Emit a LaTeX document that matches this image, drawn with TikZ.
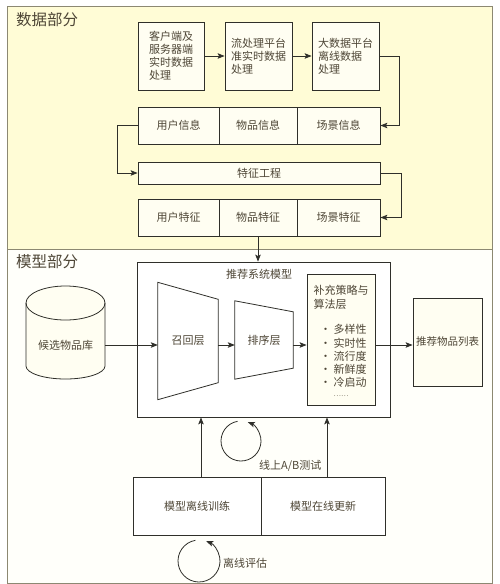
\documentclass[tikz,border=0pt]{standalone}
\usepackage{fontspec}
\setmainfont{Noto Sans CJK SC}
\usetikzlibrary{arrows.meta,calc}
\definecolor{txt}{HTML}{4E4636}
\definecolor{ln}{HTML}{2F2F2A}
\definecolor{databg}{HTML}{FFFCD6}
\definecolor{modelbg}{HTML}{FFFFFA}
\definecolor{frame}{HTML}{8C8872}
\definecolor{boxbg}{HTML}{FFFEF2}
\begin{document}
\begin{tikzpicture}[x=1pt,y=-1pt,
 lbl/.style={text=txt,font=\fontsize{11}{13}\selectfont,inner sep=0pt},
 box/.style={draw=ln,line width=0.8pt,fill=boxbg,inner sep=0pt,text=txt,font=\fontsize{11}{13}\selectfont},
 cell/.style={box,minimum height=37pt},
 arr/.style={draw=ln,line width=0.8pt,-{Stealth[length=7pt,width=5.5pt,inset=1.5pt]}},
 section/.style={draw=frame,line width=0.8pt,inner sep=0pt},
 sec/.style={text=txt,font=\fontsize{15.5}{18}\selectfont,inner sep=0pt,anchor=west}]
\useasboundingbox (0,0) rectangle (500,584);
\fill[white] (0,0) rectangle (500,584);
% sections
\node[section,fill=databg,minimum width=485pt,minimum height=243pt] (data) at (249.5,127.5) {};
\node[section,fill=modelbg,minimum width=485pt,minimum height=334pt] (model) at (249.5,416) {};
\node[sec] (dt) at (16,20) {数据部分};
\node[sec] (mt) at (16,262) {模型部分};
% top boxes
\node[box,minimum width=66pt,minimum height=68pt,align=left] (b1) at (171,56) {客户端及\\服务器端\\实时数据\\处理};
\node[box,minimum width=67pt,minimum height=68pt,align=left] (b2) at (258.5,56) {流处理平台\\准实时数据\\处理};
\node[box,minimum width=67pt,minimum height=68pt,align=left] (b3) at (345.5,56) {大数据平台\\离线数据\\处理};
% info row
\node[cell,minimum width=81pt] (i1) at (178.5,125.5) {用户信息};
\node[cell,minimum width=78pt] (i2) at (258,125.5) {物品信息};
\node[cell,minimum width=83pt] (i3) at (338.5,125.5) {场景信息};
\node[box,minimum width=242pt,minimum height=22pt] (fe) at (259,173) {特征工程};
\node[cell,minimum width=81pt] (f1) at (178.5,217.5) {用户特征};
\node[cell,minimum width=78pt] (f2) at (258,217.5) {物品特征};
\node[cell,minimum width=83pt] (f3) at (338.5,217.5) {场景特征};
% model part
\node[box,fill=white,minimum width=253pt,minimum height=155pt] (rec) at (263.5,339.5) {};
\node[lbl] (rect) at (259,274) {推荐系统模型};
% cylinder
\draw[ln,fill=boxbg,line width=0.8pt] (26,303) -- (26,366) arc[start angle=180,end angle=0,x radius=39.5,y radius=13] -- (105,303) arc[start angle=0,end angle=-180,x radius=39.5,y radius=17] -- cycle;
\draw[ln,line width=0.8pt] (26,303) arc[start angle=180,end angle=0,x radius=39.5,y radius=17];
\node[lbl,minimum width=79pt] (db) at (65.5,345) {候选物品库};
% recall & rank
\node[lbl,minimum width=60pt,minimum height=117pt] (recall) at (188,341) {召回层};
\draw[ln,line width=0.8pt] (recall.north west) -- ($(recall.north east)+(0,17)$) -- ($(recall.south east)+(0,-17)$) -- (recall.south west) -- cycle;
\node[lbl,minimum width=58pt,minimum height=78pt] (rank) at (264,340) {排序层};
\draw[ln,line width=0.8pt] (rank.north west) -- ($(rank.north east)+(0,11)$) -- ($(rank.south east)+(0,-11)$) -- (rank.south west) -- cycle;
% strategy
\node[box,minimum width=68pt,minimum height=131pt] (strat) at (341,339.5) {};
\node[lbl,anchor=north west,align=left,font=\fontsize{11}{14}\selectfont] (stt) at (313.5,285.5) {补充策略与\\算法层};
\node[lbl,anchor=north west,align=left,font=\fontsize{11}{13.2}\selectfont] (stl) at (320,324.5) {· 多样性\\· 实时性\\· 流行度\\· 新鲜度\\· 冷启动};
\node[lbl,font=\fontsize{7}{8}\selectfont] (dots) at (341,396) {……};
\node[box,minimum width=69pt,minimum height=88pt,font=\fontsize{10.5}{12}\selectfont] (out) at (447.5,342) {推荐物品列表};
% bottom
\node[box,fill=white,minimum width=128pt,minimum height=58pt] (train) at (197,506) {模型离线训练};
\node[box,fill=white,minimum width=124pt,minimum height=58pt] (upd) at (323,506) {模型在线更新};
\node[lbl,anchor=west] (abl) at (259,466) {线上A/B测试};
\node[lbl,anchor=west] (oel) at (223,563) {离线评估};
% connectors
\draw[arr] (b1) -- (b2);
\draw[arr] (b2) -- (b3);
\draw[arr] (b3.east) -- ++(20,0) |- (i3.east);
\draw[arr] (i1.west) -- ++(-20,0) |- (fe.west);
\draw[arr] (fe.east) -- ++(21,0) |- (f3.east);
\draw[arr] (f2.south) -- (f2.south |- rec.north);
\draw[arr] (db.east) -- (db.east -| recall.west);
\draw[arr] (db.east -| recall.east) -- (db.east -| rank.west);
\draw[arr] (db.east -| rank.east) -- (db.east -| strat.west);
\draw[arr] (db.east -| strat.east) -- (db.east -| out.west);
\draw[arr] ([xshift=4pt]train.north) -- ([xshift=4pt]train.north |- rec.south);
\draw[arr] ([xshift=4pt]upd.north) -- ([xshift=4pt]upd.north |- rec.south);
% loops
\coordinate (c1) at (241,441);
\coordinate (c2) at (199,561);
\draw[arr] ($(c1)+(-100:20)$) arc[start angle=-100,end angle=-430,radius=20];
\draw[arr] ($(c2)+(-100:21)$) arc[start angle=-100,end angle=-430,radius=21];
\end{tikzpicture}
\end{document}
